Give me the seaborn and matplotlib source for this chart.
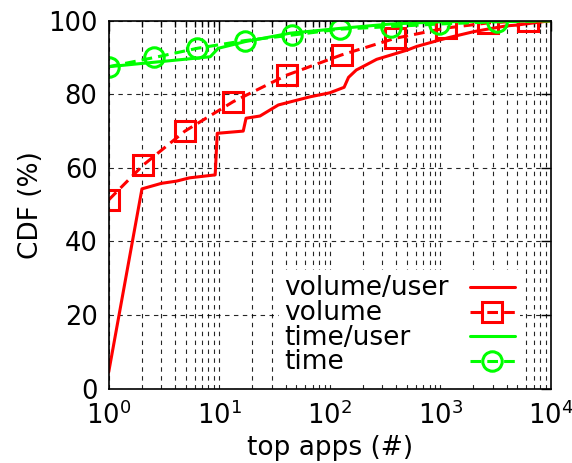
import matplotlib
matplotlib.use("Agg")
import matplotlib.pyplot as plt
import seaborn as sns
import numpy as np
from matplotlib.ticker import LogLocator, FixedLocator

# ---- data ----
vol_user_x = [1, 2, 3, 4.1, 5.4, 9.2, 9.6, 16.5, 17.5, 23.4, 34.3, 66, 100, 135, 148,
              174, 214, 266, 501, 612, 1000, 1230, 1995, 2455, 3981, 4900, 10000]
vol_user_y = [4.5, 54.3, 55.8, 56.4, 57.3, 58.1, 69.4, 70.0, 73.5, 74.1, 77.1, 79.3, 80.4, 81.9, 84.6,
              86.6, 88.0, 89.5, 92.0, 93.0, 94.8, 95.5, 97.0, 97.5, 98.6, 98.8, 100]

vol_x = [1, 2.06, 4.9, 13.4, 40.8, 128, 390, 1120, 2720, 6170, 10000]
vol_y = [51.3, 60.8, 70.0, 78.0, 85.2, 90.7, 95.2, 98.0, 99.4, 100, 100]

time_user_x = [1, 8.3, 9.8, 17.1, 43.7, 123, 355, 1000, 10000]
time_user_y = [87.5, 90.2, 92.5, 94.3, 96.6, 97.9, 99.1, 99.7, 100]

time_x = [1, 2.59, 6.34, 17.1, 45.9, 124, 355, 975, 3290, 10000]
time_y = [87.5, 90.0, 92.5, 94.6, 96.1, 97.7, 98.4, 99.1, 99.7, 100]

labels = ["volume/user", "volume", "time/user", "time"]
x_ticks = [1, 10, 100, 1000, 10000]
x_tick_labels = [r"$10^{0}$", r"$10^{1}$", r"$10^{2}$", r"$10^{3}$", r"$10^{4}$"]
y_ticks = [0, 20, 40, 60, 80, 100]

RED = "#ff0000"
GREEN = "#00ff00"

sns.set_style("white")
plt.rcParams["font.family"] = ["DejaVu Sans"]
plt.rcParams["mathtext.fontset"] = "dejavusans"
plt.rcParams["text.color"] = "black"
plt.rcParams["axes.labelcolor"] = "black"
plt.rcParams["xtick.color"] = "black"
plt.rcParams["ytick.color"] = "black"

fig = plt.figure(figsize=(5.72, 4.63), dpi=100)
ax = fig.add_axes([0.190, 0.1605, 0.7728, 0.7948])

lw = 2.2
ms = 14

sns.lineplot(x=vol_user_x, y=vol_user_y, ax=ax, color=RED, lw=lw, label=labels[0],
             sort=False, estimator=None)
sns.lineplot(x=vol_x, y=vol_y, ax=ax, color=RED, lw=lw, dashes=False, label=labels[1],
             sort=False, estimator=None, marker="s", markersize=ms, markerfacecolor="none",
             markeredgecolor=RED, markeredgewidth=lw, markevery=list(range(len(vol_x) - 1)))
sns.lineplot(x=time_user_x, y=time_user_y, ax=ax, color=GREEN, lw=lw, label=labels[2],
             sort=False, estimator=None)
sns.lineplot(x=time_x, y=time_y, ax=ax, color=GREEN, lw=lw, dashes=False, label=labels[3],
             sort=False, estimator=None, marker="o", markersize=ms, markerfacecolor="none",
             markeredgecolor=GREEN, markeredgewidth=lw, markevery=list(range(len(time_x) - 1)))

lines = ax.get_lines()
lines[1].set_linestyle((0, (3.5, 2)))
lines[3].set_linestyle((0, (3.5, 2)))

ax.set_xscale("log")
ax.set_xlim(1, 10000)
ax.set_ylim(0, 100)
ax.xaxis.set_major_locator(FixedLocator(x_ticks))
ax.set_xticklabels(x_tick_labels)
ax.xaxis.set_minor_locator(LogLocator(base=10, subs=np.arange(2, 10)))
ax.set_yticks(y_ticks)

# grid
ax.grid(True, which="major", axis="both", color="black", lw=0.8, linestyle=(0, (4, 4)), alpha=0.85)
ax.grid(True, which="minor", axis="x", color="black", lw=0.8, linestyle=(0, (4, 4)), alpha=0.85)
ax.set_axisbelow(True)

ax.tick_params(axis="both", which="major", direction="in", length=7, width=1,
               labelsize=18.5, top=True, right=True)
ax.tick_params(axis="x", which="major", pad=9)
ax.tick_params(axis="y", which="major", pad=8)
ax.tick_params(axis="both", which="minor", direction="in", length=4, width=1, top=True, right=True)
ax.tick_params(axis="y", which="minor", left=False, right=False)
for s in ax.spines.values():
    s.set_color("black")
    s.set_linewidth(1.2)

ax.set_xlabel("top apps (#)", fontsize=19, labelpad=4)
ax.set_ylabel("CDF (%)", fontsize=19, labelpad=3)

leg = ax.legend(loc="lower right", bbox_to_anchor=(0.948, 0.0), markerfirst=False,
                fontsize=19, frameon=True,
                framealpha=1, facecolor="white", edgecolor="none", fancybox=False,
                handlelength=1.7, handletextpad=0.8, labelspacing=-0.05,
                borderpad=0.2, borderaxespad=0.3, handleheight=0.5)

# left-align legend texts (gnuplot style: text left, sample right)
fig.canvas.draw()
renderer = fig.canvas.get_renderer()
texts = leg.get_texts()
widths = [t.get_window_extent(renderer).width for t in texts]
maxw = max(widths)
col = leg._legend_handle_box.get_children()[0]
col.align = "left"
for row, w in zip(col.get_children(), widths):
    row.sep = row.sep + (maxw - w) * 72.0 / fig.dpi

fig.savefig("out.png", dpi=100)
